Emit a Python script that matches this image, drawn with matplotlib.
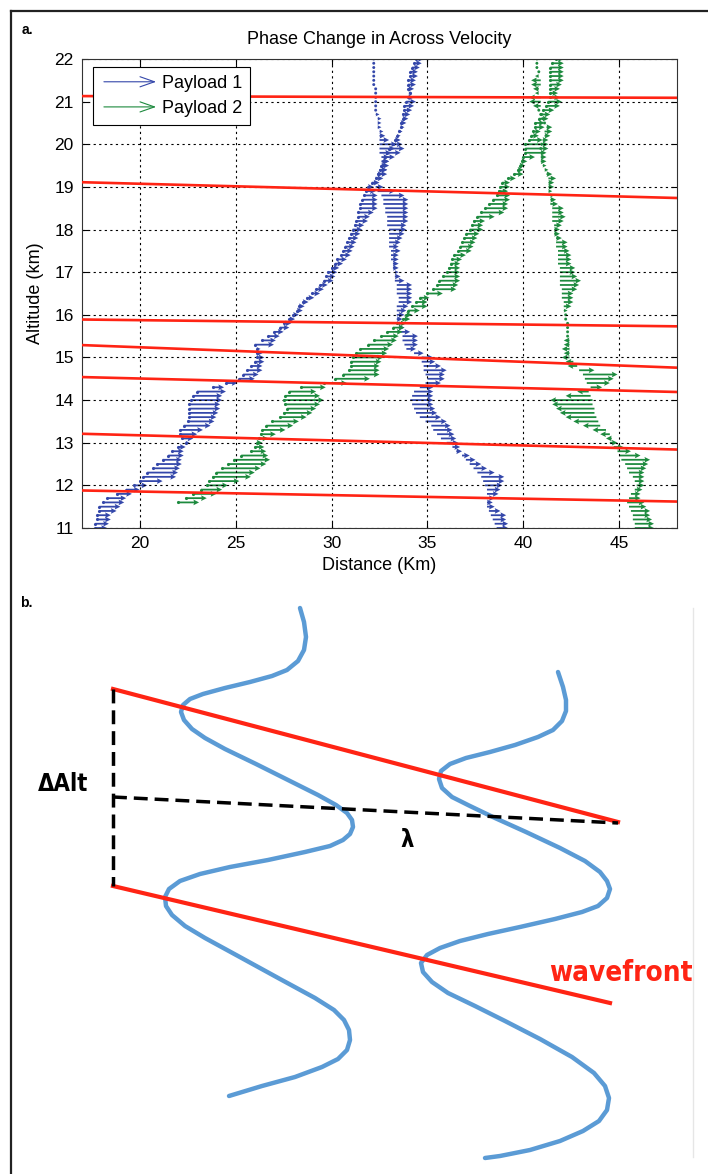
import matplotlib
matplotlib.use("Agg")
import matplotlib.pyplot as plt
import matplotlib.patches as mpatches
from matplotlib.legend_handler import HandlerPatch

# ---------------- panel a data ----------------
ALT = [11.0, 11.1, 11.2, 11.3, 11.4, 11.5, 11.6, 11.7, 11.8, 11.9,
       12.0, 12.1, 12.2, 12.3, 12.4, 12.5, 12.6, 12.7, 12.8, 12.9,
       13.0, 13.1, 13.2, 13.3, 13.4, 13.5, 13.6, 13.7, 13.8, 13.9,
       14.0, 14.1, 14.2, 14.3, 14.4, 14.5, 14.6, 14.7, 14.8, 14.9,
       15.0, 15.1, 15.2, 15.3, 15.4, 15.5, 15.6, 15.7, 15.8, 15.9,
       16.0, 16.1, 16.2, 16.3, 16.4, 16.5, 16.6, 16.7, 16.8, 16.9,
       17.0, 17.1, 17.2, 17.3, 17.4, 17.5, 17.6, 17.7, 17.8, 17.9,
       18.0, 18.1, 18.2, 18.3, 18.4, 18.5, 18.6, 18.7, 18.8, 18.9,
       19.0, 19.1, 19.2, 19.3, 19.4, 19.5, 19.6, 19.7, 19.8, 19.9,
       20.0, 20.1, 20.2, 20.3, 20.4, 20.5, 20.6, 20.7, 20.8, 20.9,
       21.0, 21.1, 21.2, 21.3, 21.4, 21.5, 21.6, 21.7, 21.8, 21.9,
       22.0]

# payload 1, diagonal track
B1_X = [17.7, 17.7, 17.8, 17.8, 17.9, 17.9, 18.1, 18.3, 18.8, 19.3,
        19.7, 20.0, 20.2, 20.4, 20.7, 20.9, 21.2, 21.5, 21.7, 22.0,
        22.4, 22.2, 22.1, 22.1, 22.3, 22.5, 22.6, 22.6, 22.6, 22.6,
        22.7, 22.8, 23.0, 23.8, 24.5, 25.2, 25.4, 25.6, 25.8, 26.0,
        26.1, 26.1, 26.1, 26.0, 26.4, 26.7, 27.0, 27.3, 27.5, 27.8,
        28.0, 28.2, 28.3, 28.5, 28.7, 29.0, 29.2, 29.4, 29.6, 29.7,
        29.8, 30.0, 30.2, 30.3, 30.5, 30.6, 30.7, 30.8, 30.9, 31.0,
        31.1, 31.2, 31.3, 31.4, 31.4, 31.5, 31.5, 31.6, 31.7, 31.8,
        31.9, 32.1, 32.3, 32.4, 32.5, 32.6, 32.7, 32.8, 32.9, 33.0,
        33.2, 33.3, 33.4, 33.5, 33.6, 33.6, 33.7, 33.7, 33.8, 33.8,
        33.9, 34.0, 34.1, 34.0, 34.0, 34.0, 34.1, 34.1, 34.2, 34.3,
        34.4]
B1_U = [0.6, 0.7, 0.7, 0.7, 0.9, 1.1, 1.1, 1.0, 0.8, 0.7,
        0.7, 1.2, 1.7, 1.6, 1.4, 1.3, 1.0, 0.8, 0.6, 0.4,
        0.2, 0.6, 0.9, 1.2, 1.4, 1.4, 1.4, 1.5, 1.6, 1.6,
        1.6, 1.5, 1.5, 0.6, 0.6, 0.8, 0.8, 0.8, 0.6, 0.5,
        0.4, 0.3, 0.2, 1.0, 0.7, 0.6, 0.5, 0.5, 0.4, 0.3,
        0.3, 0.3, 0.3, 0.3, 0.4, 0.4, 0.4, 0.4, 0.5, 0.5,
        0.5, 0.4, 0.4, 0.5, 0.5, 0.5, 0.5, 0.5, 0.5, 0.5,
        0.5, 0.5, 0.6, 0.6, 0.8, 0.9, 0.9, 0.8, 0.7, 0.5,
        0.3, 0.4, 0.4, 0.5, 0.4, 0.3, 0.3, 0.5, 0.7, 0.8,
        0.5, 0.3, 0.2, 0.2, 0.2, 0.3, 0.3, 0.4, 0.4, 0.5,
        0.5, 0.3, 0.1, 0.3, 0.4, 0.4, 0.4, 0.4, 0.4, 0.4,
        0.4]

# payload 1, steep track
B2_X = [38.6, 38.5, 38.4, 38.3, 38.2, 38.1, 38.1, 38.1, 38.1, 38.1,
        38.0, 37.9, 37.8, 37.6, 37.4, 37.2, 37.0, 36.8, 36.5, 36.3,
        36.0, 35.7, 35.5, 35.3, 35.2, 34.9, 34.6, 34.4, 34.3, 34.2,
        34.1, 34.2, 34.3, 34.6, 34.9, 35.0, 34.9, 34.8, 34.8, 34.7,
        34.7, 34.3, 33.9, 33.8, 33.7, 33.7, 33.6, 33.5, 33.5, 33.4,
        33.4, 33.4, 33.4, 33.5, 33.5, 33.4, 33.4, 33.4, 33.3, 33.3,
        33.3, 33.2, 33.2, 33.1, 33.1, 33.1, 33.0, 33.0, 33.0, 33.0,
        33.0, 32.9, 32.9, 32.9, 32.8, 32.8, 32.7, 32.7, 32.6, 32.4,
        32.3, 32.2, 32.3, 32.4, 32.5, 32.6, 32.6, 32.6, 32.5, 32.5,
        32.5, 32.5, 32.5, 32.5, 32.4, 32.4, 32.4, 32.3, 32.3, 32.3,
        32.3, 32.3, 32.3, 32.3, 32.2, 32.2, 32.2, 32.2, 32.2, 32.2,
        32.2]
B2_U = [0.6, 0.7, 0.7, 0.8, 0.6, 0.4, 0.3, 0.4, 0.6, 0.7,
        0.9, 1.1, 1.2, 0.9, 0.7, 0.6, 0.5, 0.4, 0.3, 0.4,
        0.6, 0.8, 0.9, 1.0, 1.0, 1.1, 1.1, 1.1, 1.1, 1.1,
        1.2, 1.1, 1.0, 0.7, 0.8, 0.9, 1.0, 1.2, 0.9, 0.7,
        0.6, 0.5, 0.5, 0.7, 0.8, 0.8, 0.5, 0.3, 0.2, 0.3,
        0.4, 0.5, 0.6, 0.7, 0.7, 0.8, 0.8, 0.8, 0.5, 0.3,
        0.2, 0.3, 0.3, 0.4, 0.4, 0.5, 0.5, 0.6, 0.7, 0.8,
        0.9, 1.0, 1.1, 1.1, 1.2, 1.2, 1.3, 1.3, 1.2, 0.9,
        0.4, 0.2, 0.2, 0.3, 0.4, 0.4, 0.4, 0.4, 0.6, 0.8,
        0.9, 0.5, 0.3, 0.2, 0.2, 0.2, 0.2, 0.2, 0.1, 0.1,
        0.1, 0.0, 0.0, 0.0, 0.0, 0.0, 0.0, 0.0, 0.0, 0.0,
        0.0]

# payload 2, diagonal track (starts at 11.6 km)
G1_X = [22.0, 22.4, 22.8, 23.2,
        23.5, 23.6, 23.8, 24.0, 24.3, 24.6, 24.9, 25.3, 25.8, 26.0,
        26.1, 26.2, 26.3, 26.4, 26.6, 26.9, 27.3, 27.5, 27.7, 27.6,
        27.5, 27.6, 27.8, 28.4, 29.6, 30.2, 30.6, 30.9, 31.0, 31.0,
        31.1, 31.3, 31.5, 31.9, 32.2, 32.6, 32.9, 33.2, 33.4, 33.7,
        33.9, 34.0, 34.2, 34.4, 34.6, 35.0, 35.3, 35.5, 35.6, 35.8,
        36.0, 36.1, 36.2, 36.3, 36.4, 36.6, 36.7, 36.8, 36.9, 37.0,
        37.2, 37.3, 37.4, 37.6, 37.8, 38.0, 38.2, 38.4, 38.6, 38.7,
        38.8, 38.9, 39.2, 39.5, 39.7, 39.8, 39.9, 40.0, 40.1, 40.1,
        40.1, 40.3, 40.4, 40.5, 40.6, 40.6, 40.8, 40.9, 41.0, 41.2,
        41.3, 41.4, 41.4, 41.4, 41.4, 41.4, 41.4, 41.4, 41.4, 41.5,
        41.7]
G1_U = [1.1, 1.1, 1.2, 1.1,
        1.1, 1.6, 2.0, 2.0, 2.0, 2.0, 1.9, 1.4, 0.8, 0.5,
        0.3, 0.5, 0.8, 1.2, 1.4, 1.4, 1.4, 1.5, 1.5, 1.8,
        2.1, 1.8, 1.4, 1.3, 1.2, 1.8, 1.9, 1.6, 1.5, 1.6,
        1.6, 1.6, 1.5, 1.3, 1.2, 0.9, 0.8, 0.6, 0.5, 0.4,
        0.3, 0.6, 0.8, 0.6, 0.5, 0.8, 1.2, 1.1, 1.1, 0.9,
        0.7, 0.6, 0.5, 0.5, 0.6, 0.7, 0.7, 0.7, 0.7, 0.7,
        0.7, 0.6, 0.6, 0.9, 1.2, 1.2, 1.0, 0.9, 0.7, 0.5,
        0.5, 0.4, 0.4, 0.5, 0.3, 0.3, 0.3, 0.6, 1.1, 1.2,
        1.2, 0.7, 0.4, 0.4, 0.5, 0.5, 0.5, 0.5, 0.6, 0.7,
        0.7, 0.5, 0.4, 0.5, 0.6, 0.7, 0.7, 0.7, 0.7, 0.6,
        0.4]

# payload 2, steep track
G2_X = [45.8, 45.8, 45.7, 45.7, 45.6, 45.5, 45.4, 45.5, 45.6, 45.8,
        45.9, 45.8, 45.7, 45.5, 45.4, 45.3, 45.1, 45.0, 44.9, 44.7,
        44.5, 44.6, 44.5, 44.3, 44.0, 43.9, 43.8, 43.7, 43.7, 43.6,
        43.6, 43.5, 43.4, 43.5, 43.3, 43.2, 43.1, 42.9, 42.8, 42.6,
        42.4, 42.4, 42.4, 42.4, 42.4, 42.3, 42.3, 42.3, 42.3, 42.2,
        42.2, 42.1, 42.1, 42.1, 42.0, 42.0, 42.0, 41.9, 41.9, 41.9,
        41.9, 41.9, 41.8, 41.8, 41.8, 41.8, 41.7, 41.7, 41.7, 41.6,
        41.6, 41.6, 41.5, 41.5, 41.5, 41.5, 41.4, 41.4, 41.4, 41.3,
        41.3, 41.3, 41.3, 41.2, 41.1, 41.0, 40.9, 40.9, 40.9, 40.9,
        40.9, 41.0, 41.1, 41.1, 41.2, 41.1, 41.0, 40.9, 40.8, 40.9,
        40.9, 40.9, 40.8, 40.8, 40.9, 40.9, 40.8, 40.8, 40.7, 40.7,
        40.7]
G2_U = [1.0, 1.0, 1.0, 0.9, 1.0, 0.9, 0.9, 0.6, 0.5, 0.4,
        0.4, 0.5, 0.6, 0.8, 1.0, 1.2, 1.5, 1.1, 0.7, 0.5,
        0.4, -0.3, -0.5, -0.7, -0.9, -1.3, -1.6, -1.8, -2.0, -2.1,
        -2.2, -1.3, -0.6, 0.6, 1.2, 1.5, 1.8, 0.8, -0.5, -0.4,
        -0.4, -0.3, -0.4, -0.3, -0.3, 0.0, 0.0, 0.0, 0.0, 0.0,
        0.0, 0.2, 0.4, 0.5, 0.6, 0.6, 0.8, 1.0, 1.1, 0.9,
        0.8, 0.8, 0.7, 0.7, 0.7, 0.6, 0.6, 0.6, 0.3, 0.3,
        0.3, 0.4, 0.6, 0.7, 0.6, 0.6, 0.4, 0.3, 0.2, 0.2,
        0.3, 0.3, 0.4, 0.3, 0.2, 0.2, 0.3, 0.3, 0.2, 0.1,
        0.2, 0.3, 0.3, 0.4, 0.3, 0.1, 0.0, 0.0, -0.1, -0.4,
        -0.6, -0.6, -0.2, -0.3, -0.5, -0.5, -0.2, -0.1, -0.1, 0.0,
        0.0]

# wavefront lines: altitude at left / right edge of the plot
WAVE_LEFT = [21.13, 19.11, 15.89, 15.29, 14.54, 13.21, 11.88]
WAVE_RIGHT = [21.09, 18.74, 15.73, 14.76, 14.19, 12.84, 11.62]

XTICKS = [20, 25, 30, 35, 40, 45]
YTICKS = [11, 12, 13, 14, 15, 16, 17, 18, 19, 20, 21, 22]

# ---------------- panel b data (sketch, pixel coordinates) ----------------
WAVE1_X = [300, 304, 306, 304, 298, 287, 272, 250, 225, 203, 190, 183, 181, 184,
           192, 205, 225, 256, 290, 318, 336, 347, 352, 353, 350, 343, 330, 305,
           268, 230, 200, 180, 169, 165, 166, 172, 185, 205, 238, 280, 315, 334,
           344, 349, 350, 347, 338, 322, 295, 262, 229]
WAVE1_Y = [608, 622, 637, 650, 661, 670, 676, 682, 688, 694, 699, 705, 712, 720,
           729, 738, 749, 764, 781, 795, 805, 813, 820, 827, 834, 840, 846, 852,
           860, 867, 874, 881, 889, 897, 906, 915, 926, 938, 956, 979, 998, 1010,
           1020, 1030, 1040, 1050, 1059, 1067, 1077, 1086, 1096]
WAVE2_X = [558, 563, 566, 566, 562, 553, 538, 515, 490, 466, 450, 441, 439, 442,
           452, 470, 495, 526, 560, 585, 600, 607, 610, 607, 598, 582, 555, 520,
           488, 460, 440, 427, 421, 423, 432, 448, 475, 505, 540, 572, 594, 605,
           609, 607, 599, 583, 560, 530, 500, 485]
WAVE2_Y = [672, 687, 700, 711, 721, 730, 737, 745, 752, 758, 764, 771, 779, 788,
           797, 806, 818, 832, 848, 861, 872, 881, 889, 898, 906, 912, 919, 927,
           934, 941, 948, 955, 963, 972, 982, 993, 1006, 1021, 1039, 1057, 1073, 1086,
           1098, 1110, 1121, 1131, 1141, 1150, 1156, 1158]
FRONT_UP_X, FRONT_UP_Y = [113, 618], [689, 822]
FRONT_LO_X, FRONT_LO_Y = [113, 610], [886, 1003]
DALT_X, DALT_Y = [113, 113], [689, 886]
LAMBDA_X, LAMBDA_Y = [113, 618], [797, 823]

BLUE = "#3447aa"
GREEN = "#1d8a3e"
RED = "#ff2414"
SKETCH_BLUE = "#5b9bd5"
NARROW = ["Liberation Sans Narrow", "DejaVu Sans Condensed", "DejaVu Sans"]

plt.rcParams["font.family"] = ["Liberation Sans", "DejaVu Sans"]


def arrow_handle(legend, orig_handle, xdescent, ydescent, width, height, fontsize):
    return mpatches.FancyArrowPatch((-xdescent, height / 2 - ydescent),
                                    (width - xdescent, height / 2 - ydescent),
                                    arrowstyle="->,head_length=0.8,head_width=0.28",
                                    mutation_scale=fontsize)


def draw_track(ax, xs, alts, us, color):
    ax.quiver(xs, alts, us, [0] * len(us), color=color, angles="xy", scale_units="xy",
              scale=1, width=0.003, headwidth=3.2, headlength=3.2, headaxislength=2.8,
              minlength=1.8)


fig = plt.figure(figsize=(7.08, 11.74), dpi=100)

# overlay in pixel coordinates: frame, panel labels and the sketch
ov = fig.add_axes([0, 0, 1, 1], zorder=0)
ov.set_xlim(0, 708)
ov.set_ylim(1174, 0)
ov.axis("off")
ov.plot([11, 11], [11, 1174], color="#222222", lw=1.6, clip_on=False)
ov.plot([11, 708], [11, 11], color="#222222", lw=1.6, clip_on=False)
ov.plot([693, 693], [608, 1157], color="#e6e6e6", lw=1)
ov.text(22, 34, "a.", fontsize=10, fontweight="bold")
ov.text(20, 607, "b.", fontsize=10, fontweight="bold")

# panel a
ax = fig.add_axes([82 / 708, 1 - 528 / 1174, 595 / 708, 469 / 1174], zorder=1)
draw_track(ax, B1_X, ALT, B1_U, BLUE)
draw_track(ax, B2_X, ALT, B2_U, BLUE)
draw_track(ax, G1_X, ALT[6:], G1_U, GREEN)
draw_track(ax, G2_X, ALT, G2_U, GREEN)
ax.plot(B1_X, ALT, ".", color=BLUE, ms=2.5)
ax.plot(G1_X, ALT[6:], ".", color=GREEN, ms=2.5)

for yl, yr in zip(WAVE_LEFT, WAVE_RIGHT):
    ax.plot([17, 48], [yl, yr], color=RED, lw=1.9, zorder=4)

ax.set_xlim(17, 48)
ax.set_ylim(11, 22)
ax.set_xticks(XTICKS)
ax.set_yticks(YTICKS)
ax.grid(True, color="black", linestyle=(0, (2, 3)), lw=0.8)
ax.tick_params(direction="in", top=True, right=True, length=4, labelsize=12.5, pad=6)
for s in ax.spines.values():
    s.set_linewidth(0.8)
    s.set_color("#333333")
ax.set_title("Phase Change in Across Velocity", fontsize=13, pad=11)
ax.set_xlabel("Distance (Km)", fontsize=13, labelpad=4)
ax.set_ylabel("Altitude (km)", fontsize=13, labelpad=7)

h1 = mpatches.FancyArrowPatch((0, 0), (1, 0), arrowstyle="->", color=BLUE, lw=0.8)
h2 = mpatches.FancyArrowPatch((0, 0), (1, 0), arrowstyle="->", color=GREEN, lw=0.8)
leg = ax.legend([h1, h2], ["Payload 1", "Payload 2"], loc="upper left",
                bbox_to_anchor=(0.0185, 0.983), borderaxespad=0, fontsize=13,
                handlelength=3.2, handletextpad=0.15, labelspacing=0.45,
                borderpad=0.45, fancybox=False, framealpha=1, edgecolor="black",
                handler_map={mpatches.FancyArrowPatch: HandlerPatch(patch_func=arrow_handle)})
leg.get_frame().set_linewidth(0.8)
leg.set_zorder(6)

# panel b sketch
ov.plot(WAVE1_X, WAVE1_Y, color=SKETCH_BLUE, lw=3.2, solid_capstyle="round", solid_joinstyle="round")
ov.plot(WAVE2_X, WAVE2_Y, color=SKETCH_BLUE, lw=3.2, solid_capstyle="round", solid_joinstyle="round")
ov.plot(FRONT_UP_X, FRONT_UP_Y, color=RED, lw=3)
ov.plot(FRONT_LO_X, FRONT_LO_Y, color=RED, lw=3)
ov.plot(DALT_X, DALT_Y, color="black", lw=2.5, dashes=(4, 2))
ov.plot(LAMBDA_X, LAMBDA_Y, color="black", lw=2.5, dashes=(4, 2))
ov.text(38, 784, "\u0394Alt", fontsize=17, fontweight="bold", va="center",
        family=NARROW, fontstretch="condensed")
ov.text(407, 840, "\u03bb", fontsize=17, fontweight="bold", ha="center", va="center",
        family=NARROW, fontstretch="condensed")
ov.text(549, 973, "wavefront", fontsize=20, fontweight="bold", color=RED, va="center",
        family=NARROW, fontstretch="condensed")

fig.savefig("out.png", dpi=100)
